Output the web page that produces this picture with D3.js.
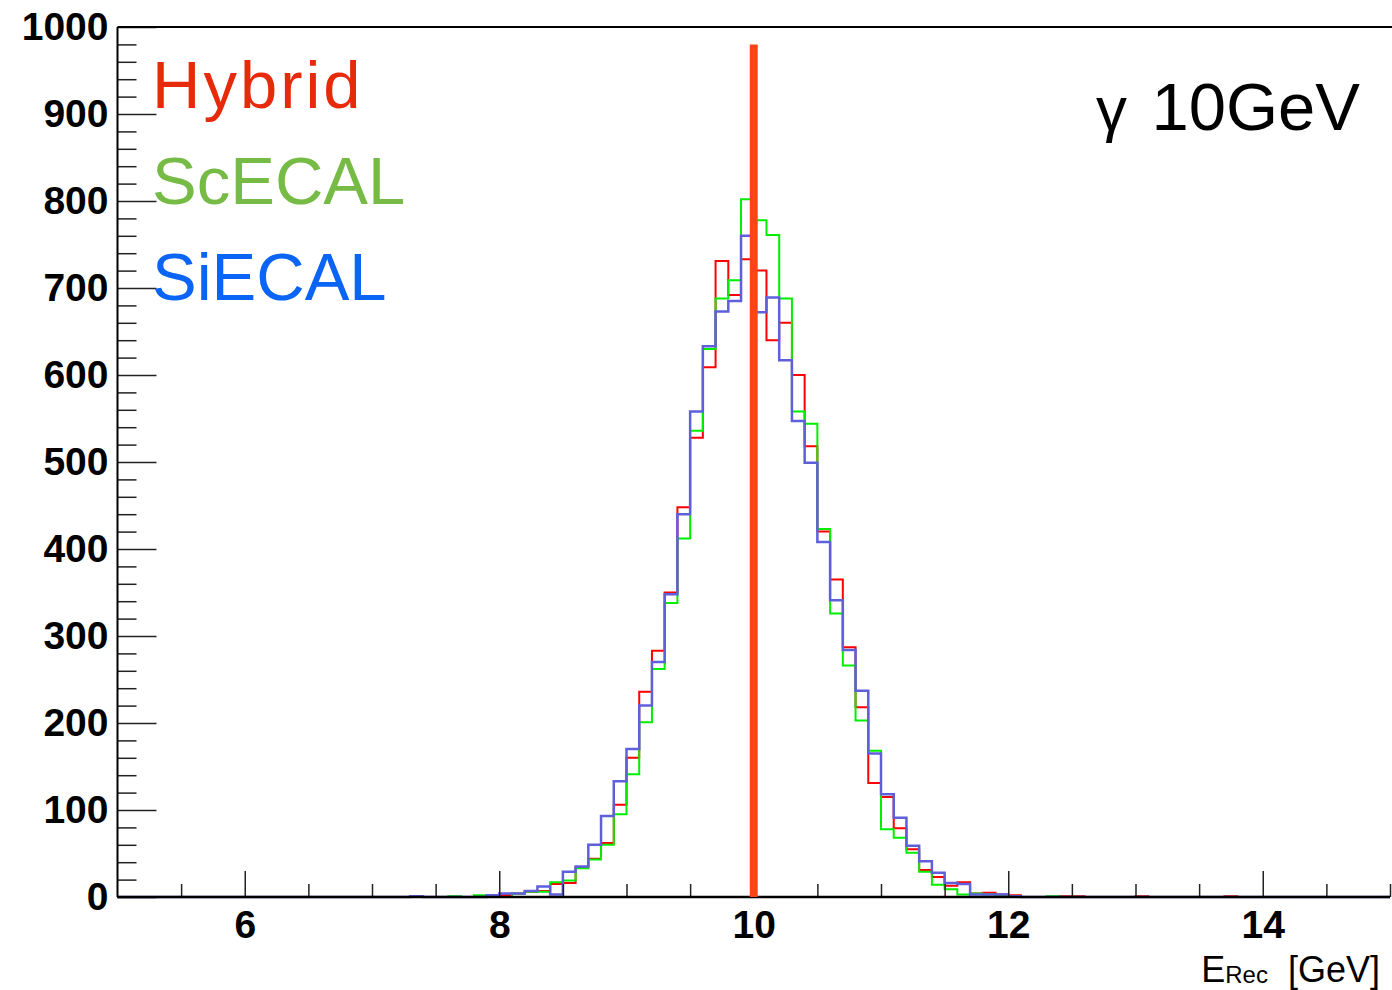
<!DOCTYPE html>
<html>
<head>
<meta charset="utf-8">
<script src="https://cdn.jsdelivr.net/npm/d3@7"></script>
<style>
  body { margin: 0; background: #fff; }
  svg { display: block; }
</style>
</head>
<body>
<div id="chart-area"></div>
<script>

var width = 1392,
    height = 990;

// histogram binning: 100 bins of 0.1 GeV from 5 to 15
var binStart = 5.0,
    binWidth = 0.1;

// counts per bin, first bin = 5.0-5.1
var hybrid = [
  0,0,0,0,0,0,0,0,0,0,   0,0,0,0,0,0,0,0,0,0,
  0,0,0,0,0,0,0,0,0,1,   2,4,6,7,15,16,34,44,62,106,
  160,236,283,350,448,528,609,731,692,733,
  720,640,660,600,518,420,365,287,218,131,
  115,79,55,31,23,13,17,4,5,3,
  2,0,0,0,1,1,0,0,0,0,   1,0,0,0,0,0,0,1,0,0,
  0,0,0,0,0,0,0,0,0,0
];
var scecal = [
  0,0,0,0,0,0,0,0,0,0,   0,0,0,0,0,0,0,0,0,0,
  0,0,0,0,0,0,1,0,2,1,   0,4,6,6,17,19,33,43,60,95,
  141,201,262,338,412,536,630,688,709,802,
  778,761,688,558,544,423,326,266,203,168,
  78,68,51,29,14,9,3,4,3,1,
  0,0,0,1,0,0,0,0,0,0,   0,0,0,0,0,0,0,0,0,0,
  0,0,0,0,0,0,0,0,0,0
];
var siecal = [
  0,0,0,0,0,0,0,0,0,0,   0,0,0,0,0,0,0,0,0,0,
  0,0,0,1,0,0,0,0,0,2,   4,4,7,12,3,29,35,60,93,133,
  170,220,270,348,440,558,633,673,685,760,
  672,689,617,547,499,408,341,284,237,165,
  118,91,59,41,28,16,15,3,3,3,
  1,0,0,0,0,0,0,0,0,0,   0,0,0,0,0,0,0,0,0,0,
  0,0,0,0,0,0,0,0,0,0
];

var seriesNames = ["Hybrid", "ScECAL", "SiECAL"];
var lineColors = ["#ff0000", "#00ee00", "#5f5fdc"];
var labelColors = ["#e62a0a", "#76bb45", "#0a64f5"];

var xTicksMajor = [6, 8, 10, 12, 14];
var yTicksMajor = [0, 100, 200, 300, 400, 500, 600, 700, 800, 900, 1000];

// true energy marker
var markerE = 10,
    markerTop = 980;

var x = d3.scaleLinear().domain([5, 15]).range([117.5, 1390]);
var y = d3.scaleLinear().domain([0, 1000]).range([897, 27]);

var svg = d3.select("#chart-area").append("svg")
    .attr("width", width)
    .attr("height", height)
    .style("font-family", "'Liberation Sans', Arial, sans-serif");

// histograms as step lines
var step = d3.line()
    .x(d => x(d[0]))
    .y(d => y(d[1]))
    .curve(d3.curveStepAfter);

function toPoints(counts) {
  var pts = counts.map((c, i) => [binStart + i * binWidth, c]);
  pts.push([binStart + counts.length * binWidth, counts[counts.length - 1]]);
  return pts;
}

[hybrid, scecal, siecal].forEach(function(counts, i) {
  svg.append("path")
    .attr("d", step(toPoints(counts)))
    .attr("fill", "none")
    .attr("stroke", lineColors[i])
    .attr("stroke-width", i == 2 ? 2.5 : 2);
});

// y axis
svg.append("g")
    .attr("transform", "translate(" + x(5) + ",0)")
    .call(d3.axisLeft(y).tickValues(d3.range(0, 1001, 20).filter(v => v % 100 != 0))
      .tickSize(-19).tickFormat(""))
    .call(g => g.select(".domain").remove())
    .call(g => g.selectAll("line").attr("stroke", "#222").attr("stroke-width", 1.5));

svg.append("g")
    .attr("transform", "translate(" + x(5) + ",0)")
    .call(d3.axisLeft(y).tickValues(yTicksMajor).tickSize(-39).tickPadding(9)
      .tickFormat(d3.format("d")))
    .call(g => g.select(".domain").remove())
    .call(g => g.selectAll("line").attr("stroke", "#222").attr("stroke-width", 1.5))
    .call(g => g.selectAll("text")
      .attr("fill", "#000")
      .style("font-size", "39px")
      .style("font-weight", "bold"));

// x axis
svg.append("g")
    .attr("transform", "translate(0," + y(0) + ")")
    .call(d3.axisBottom(x).tickValues(d3.range(5.5, 15.01, 0.5).filter(v => v % 2 != 0))
      .tickSize(-13).tickFormat(""))
    .call(g => g.select(".domain").remove())
    .call(g => g.selectAll("line").attr("stroke", "#222").attr("stroke-width", 1.5));

svg.append("g")
    .attr("transform", "translate(0," + y(0) + ")")
    .call(d3.axisBottom(x).tickValues(xTicksMajor).tickSize(-26).tickPadding(13))
    .call(g => g.select(".domain").remove())
    .call(g => g.selectAll("line").attr("stroke", "#222").attr("stroke-width", 1.5))
    .call(g => g.selectAll("text")
      .attr("fill", "#000")
      .style("font-size", "39px")
      .style("font-weight", "bold"));

// frame lines
svg.append("line")
    .attr("x1", x(5)).attr("x2", x(5))
    .attr("y1", y(1000)).attr("y2", y(0))
    .attr("stroke", "#000").attr("stroke-width", 2);
svg.append("line")
    .attr("x1", x(5)).attr("x2", width)
    .attr("y1", y(1000)).attr("y2", y(1000))
    .attr("stroke", "#000").attr("stroke-width", 2);
svg.append("line")
    .attr("x1", x(5)).attr("x2", x(15))
    .attr("y1", y(0)).attr("y2", y(0))
    .attr("stroke", "#000").attr("stroke-width", 2.5);

// marker at true energy
svg.append("line")
    .attr("x1", x(markerE)).attr("x2", x(markerE))
    .attr("y1", y(0)).attr("y2", y(markerTop))
    .attr("stroke", "#ff4318")
    .attr("stroke-width", 8);

// legend text
seriesNames.forEach(function(name, i) {
  svg.append("text")
    .attr("x", 152)
    .attr("y", 108 + i * 96)
    .attr("fill", labelColors[i])
    .style("font-size", "67px")
    .style("letter-spacing", i == 0 ? "3px" : "0px")
    .text(name);
});

// beam label
svg.append("text")
    .attr("x", 1096)
    .attr("y", 130)
    .style("font-size", "62px")
    .text("γ");
svg.append("text")
    .attr("x", 1360)
    .attr("y", 130)
    .attr("text-anchor", "end")
    .style("font-size", "67px")
    .text("10GeV");

// x axis title
var xt = svg.append("text")
    .attr("x", 1380)
    .attr("y", 982)
    .attr("text-anchor", "end")
    .style("font-size", "36px")
    .attr("xml:space", "preserve")
    .style("white-space", "pre");
xt.append("tspan").text("E");
xt.append("tspan").style("font-size", "24px").attr("dy", 1).text("Rec");
xt.append("tspan").attr("dy", -1).text("  [GeV]");

</script>
</body>
</html>
